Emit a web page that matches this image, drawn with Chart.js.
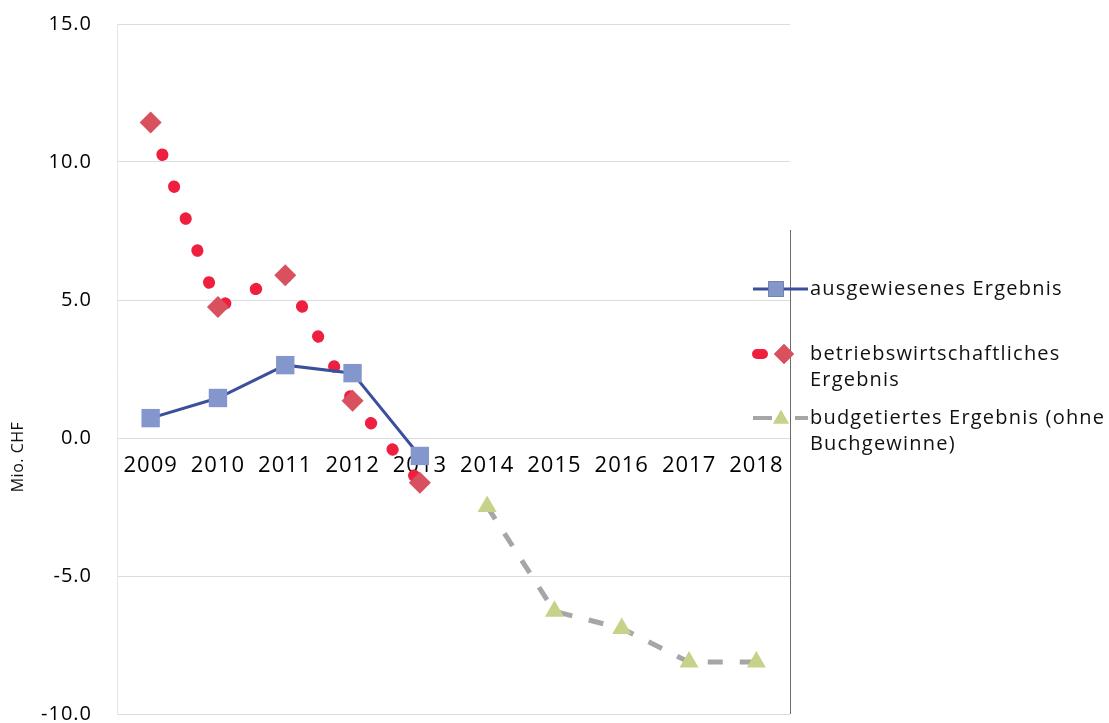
<!DOCTYPE html>
<html><head><meta charset="utf-8">
<script src="https://cdn.jsdelivr.net/npm/chart.js@4"></script>
<style>html,body{margin:0;padding:0;background:#fff;}#wrap{width:1109px;height:723px;}</style>
</head><body><div id="wrap"><canvas id="c" width="1109" height="723"></canvas></div>
<script>
const years = ['2009','2010','2011','2012','2013','2014','2015','2016','2017','2018'];
const ausgewiesen = [0.72, 1.45, 2.64, 2.35, -0.65, null, null, null, null, null];
const betrieb = [11.43, 4.75, 5.9, 1.35, -1.62, null, null, null, null, null];
const budget = [null, null, null, null, null, -2.48, -6.28, -6.9, -8.12, -8.12];
const legendLabels = [['ausgewiesenes Ergebnis'], ['betriebswirtschaftliches','Ergebnis'], ['budgetiertes Ergebnis (ohne','Buchgewinne)']];
const yTitle = 'Mio. CHF';

const FONT = "'Open Sans', 'Noto Sans', sans-serif";

const customPlugin = {
  id: 'custom',
  beforeInit(chart) { chart.ctx.letterSpacing = '1px'; },
  beforeDraw(chart) { chart.ctx.letterSpacing = '1px'; },
  afterDraw(chart) {
    const ctx = chart.ctx;
    const a = chart.chartArea;
    ctx.save();
    // right border
    ctx.strokeStyle = '#6b6b6b';
    ctx.lineWidth = 1;
    ctx.beginPath(); ctx.moveTo(Math.round(a.right)+0.5, 230); ctx.lineTo(Math.round(a.right)+0.5, a.bottom); ctx.stroke();
    // y title
    ctx.fillStyle = '#111';
    ctx.letterSpacing = '0.5px';
    ctx.font = "16px " + FONT;
    ctx.translate(18, 457);
    ctx.rotate(-Math.PI/2);
    ctx.textAlign = 'center'; ctx.textBaseline = 'middle';
    ctx.fillText(yTitle, 0, 0);
    ctx.restore();

    // legend
    ctx.save();
    ctx.letterSpacing = '1.2px';
    ctx.font = "20px " + FONT;
    ctx.fillStyle = '#111';
    ctx.textBaseline = 'middle';
    ctx.textAlign = 'left';
    const rows = [289, 354, 418];
    const tx = 810;
    legendLabels.forEach((lines, i) => {
      lines.forEach((t, j) => ctx.fillText(t, tx, rows[i] + j * 26));
    });
    // symbols
    const ds = chart.data.datasets;
    // row 1
    ctx.strokeStyle = ds[0].borderColor; ctx.lineWidth = 3; ctx.lineCap = 'butt';
    ctx.beginPath(); ctx.moveTo(753, 289); ctx.lineTo(808, 289); ctx.stroke();
    Chart.helpers.drawPoint(ctx, {pointStyle:'rect', radius: 11, borderWidth:0}, 776, 289);
    ctx.fillStyle = ds[0].pointBackgroundColor; ctx.fill();
    // row 2
    ctx.strokeStyle = ds[1].borderColor; ctx.lineWidth = 10; ctx.lineCap = 'round';
    ctx.beginPath(); ctx.moveTo(757, 354); ctx.lineTo(763, 354); ctx.stroke();
    ctx.fillStyle = ds[1].pointBackgroundColor;
    Chart.helpers.drawPoint(ctx, {pointStyle:'rectRot', radius: 10, borderWidth:0}, 784, 354);
    ctx.fill();
    // row 3
    ctx.strokeStyle = ds[2].borderColor; ctx.lineWidth = 4; ctx.lineCap = 'butt';
    ctx.beginPath(); ctx.moveTo(753, 418); ctx.lineTo(772, 418); ctx.stroke();
    ctx.beginPath(); ctx.moveTo(795, 418); ctx.lineTo(808, 418); ctx.stroke();
    ctx.fillStyle = ds[2].pointBackgroundColor;
    Chart.helpers.drawPoint(ctx, {pointStyle:'triangle', radius: 9, borderWidth:0}, 781, 419);
    ctx.fill();
    ctx.restore();
  }
};

new Chart(document.getElementById('c'), {
  type: 'line',
  data: {
    labels: years,
    datasets: [
      {
        label: legendLabels[0].join(' '),
        data: ausgewiesen,
        borderColor: '#3b4f9b',
        borderWidth: 3,
        pointStyle: 'rect',
        pointRadius: 13,
        pointBackgroundColor: '#8397cd',
        pointBorderWidth: 0,
        spanGaps: false,
        tension: 0
      },
      {
        label: legendLabels[1].join(' '),
        data: betrieb,
        borderColor: '#ef1f3f',
        borderWidth: 12,
        borderDash: [0.5, 33.5],
        borderCapStyle: 'round',
        pointStyle: 'rectRot',
        pointRadius: 11,
        pointBackgroundColor: '#d9505f',
        pointBorderWidth: 0,
        tension: 0
      },
      {
        label: legendLabels[2].join(' '),
        data: budget,
        borderColor: '#a6a6a6',
        borderWidth: 5,
        borderDash: [15, 17],
        borderCapStyle: 'butt',
        pointStyle: 'triangle',
        pointRadius: 11,
        pointBackgroundColor: '#c6d28a',
        pointBorderWidth: 0,
        tension: 0
      }
    ]
  },
  options: {
    responsive: false,
    animation: false,
    devicePixelRatio: 1,
    layout: { autoPadding: false, padding: { top: 24, right: 319, bottom: 9, left: 0 } },
    plugins: { legend: { display: false }, tooltip: { enabled: false } },
    scales: {
      x: {
        position: { y: 0 },
        offset: true,
        afterFit(scale) { scale.height = 0; },
        grid: { display: false },
        border: { display: false },
        ticks: { color: '#000', font: { family: FONT, size: 22 }, padding: 7, maxRotation: 0, autoSkip: false }
      },
      y: {
        min: -10, max: 15,
        afterFit(scale) { scale.width = 117; },
        grid: { color: '#dcdcdc', lineWidth: 1, drawTicks: true, tickLength: 25, tickColor: 'rgba(0,0,0,0)' },
        border: { display: true, color: '#e4e4e4' },
        ticks: { stepSize: 5, color: '#000', padding: 0, font: { family: FONT, size: 20, lineHeight: 0.7 },
          callback: v => Number(v).toFixed(1) }
      }
    }
  },
  plugins: [customPlugin]
});
</script></body></html>
